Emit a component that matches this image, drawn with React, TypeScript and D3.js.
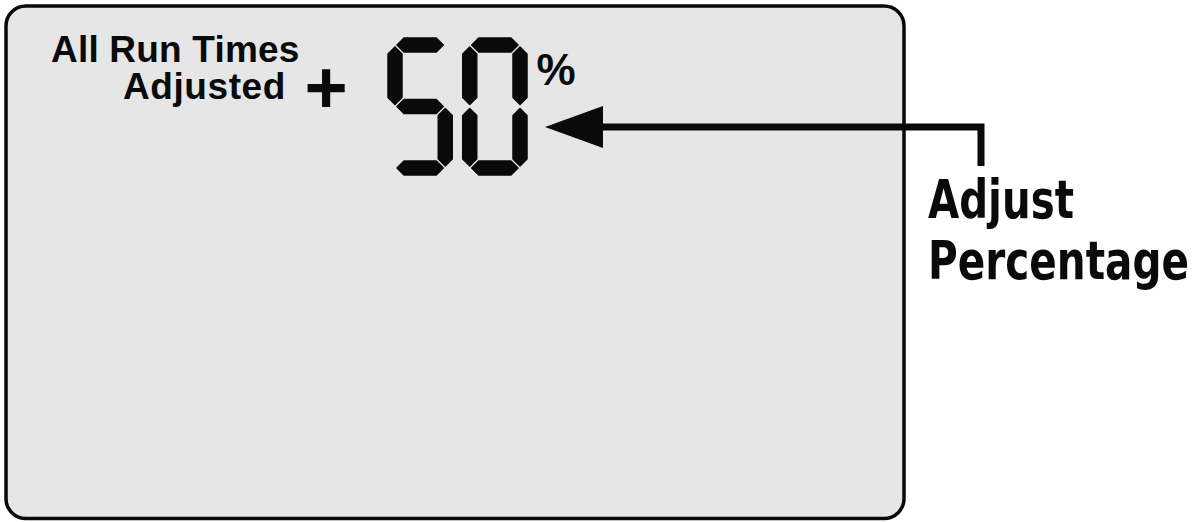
import React, { useLayoutEffect, useRef, useState } from "react";
import * as d3 from "d3";

// what the LCD shows
const displayDigits = ["5", "0"];
const unitLabel = "%";
const signLabel = "+";
const headerLines = ["All Run Times", "Adjusted"];
const calloutLines = ["Adjust", "Percentage"];

// which of the seven segments are lit for each digit
const segmentMap: Record<string, string[]> = {
  "5": ["a", "f", "g", "c", "d"],
  "0": ["a", "b", "c", "d", "e", "f"],
};

const width = 1204;
const height = 522;
const ink = "#0a0a0a";
const panelFill = "#e6e6e6";

const thick = 14; // segment thickness
const gap = 2;

// horizontal segment as a pointed hexagon
function hSeg(x1: number, x2: number, yc: number) {
  const h = thick / 2;
  return `M${x1},${yc} L${x1 + h},${yc - h} L${x2 - h},${yc - h} L${x2},${yc} L${x2 - h},${yc + h} L${x1 + h},${yc + h} Z`;
}
function vSeg(y1: number, y2: number, xc: number) {
  const h = thick / 2;
  return `M${xc},${y1} L${xc + h},${y1 + h} L${xc + h},${y2 - h} L${xc},${y2} L${xc - h},${y2 - h} L${xc - h},${y1 + h} Z`;
}

function segmentPath(seg: string, x0: number, x1: number, y0: number, ym: number, y1: number) {
  const h = thick / 2;
  switch (seg) {
    case "a":
      return hSeg(x0 + h + gap, x1 - h - gap, y0 + h);
    case "g":
      return hSeg(x0 + h + gap, x1 - h - gap, ym);
    case "d":
      return hSeg(x0 + h + gap, x1 - h - gap, y1 - h);
    case "f":
      return vSeg(y0 + h + gap, ym - gap, x0 + h);
    case "b":
      return vSeg(y0 + h + gap, ym - gap, x1 - h);
    case "e":
      return vSeg(ym + gap, y1 - h - gap, x0 + h);
    case "c":
      return vSeg(ym + gap, y1 - h - gap, x1 - h);
  }
  return "";
}

// squeeze a label horizontally so it spans exactly `w` px
function FitText({ x, y, w, size, children }: { x: number; y: number; w: number; size: number; children: string }) {
  const ref = useRef<SVGTextElement | null>(null);
  const [sx, setSx] = useState(1);
  useLayoutEffect(() => {
    if (!ref.current) return;
    const natural = ref.current.getComputedTextLength();
    if (natural > 0) setSx(w / natural);
  }, [w, children]);
  return (
    <g transform={`translate(${x},${y}) scale(${sx},1)`}>
      <text ref={ref} x={0} y={0} fontSize={size}>
        {children}
      </text>
    </g>
  );
}

export default function App() {
  const x = d3
    .scaleBand<number>()
    .domain(displayDigits.map((_, i) => i))
    .range([388, 527])
    .paddingInner(0.14);

  const y = d3.scaleLinear().domain([0, 1]).range([38, 175]);

  return (
    <svg
      width={width}
      height={height}
      style={{ position: "absolute", left: 0, top: 0, background: "#fff" }}
    >
      {/* LCD panel */}
      <rect
        x={6}
        y={6}
        width={898}
        height={512.5}
        rx={20}
        fill={panelFill}
        stroke={ink}
        strokeWidth={3.5}
      />

      {/* header text */}
      <g fontFamily="'Liberation Sans', Arial, sans-serif" fontWeight="bold" fill={ink}>
        <text x={51} y={62} fontSize={37} letterSpacing={0.2}>
          {headerLines[0]}
        </text>
        <text x={286} y={99} fontSize={37} letterSpacing={0.6} textAnchor="end">
          {headerLines[1]}
        </text>
      </g>
      <text
        x={326}
        y={113}
        fontFamily="'Liberation Sans', Arial, sans-serif"
        fontWeight="bold"
        fontSize={74}
        textAnchor="middle"
        fill={ink}
      >
        {signLabel}
      </text>

      {/* seven segment digits */}
      {displayDigits.map((dg, i) => {
        const x0 = x(i) ?? 0;
        const x1 = x0 + x.bandwidth();
        return (
          <g key={i}>
            {segmentMap[dg].map((s) => (
              <path
                key={s}
                d={segmentPath(s, x0, x1, y(0), y(0.5), y(1))}
                fill={ink}
                stroke={ink}
                strokeWidth={1.5}
                strokeLinejoin="round"
              />
            ))}
          </g>
        );
      })}
      <text
        x={556}
        y={85}
        fontFamily="'Liberation Sans', Arial, sans-serif"
        fontWeight="bold"
        fontSize={44}
        textAnchor="middle"
        fill={ink}
      >
        {unitLabel}
      </text>

      {/* callout arrow */}
      <path d="M600,127 H981 V166" fill="none" stroke={ink} strokeWidth={7} />
      <path d="M545,127 L603,106 L603,148 Z" fill={ink} />

      <g fontFamily="'Liberation Sans Narrow', 'DejaVu Sans Condensed', sans-serif" fontWeight="bold" fill={ink}>
        <FitText x={928} y={218} w={146} size={54}>
          {calloutLines[0]}
        </FitText>
        <FitText x={928} y={279} w={261} size={54}>
          {calloutLines[1]}
        </FitText>
      </g>
    </svg>
  );
}
